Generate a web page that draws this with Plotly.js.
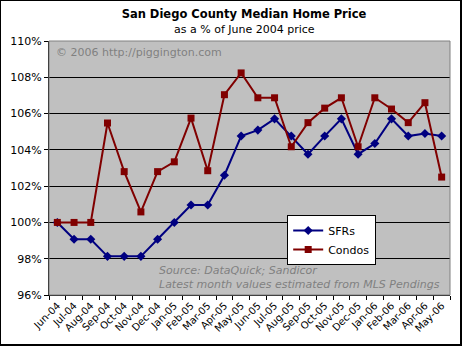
<!DOCTYPE html>
<html>
<head>
<meta charset="utf-8">
<script src="https://cdn.plot.ly/plotly-3.0.1.min.js"></script>
<style>
  html, body { margin: 0; padding: 0; background: #fff; }
  #frame { width: 462px; height: 346px; box-sizing: border-box; border: 1px solid #000; border-right-width: 2px; border-bottom-width: 2px; overflow: hidden; }
  #chart { width: 459px; height: 343px; }
</style>
</head>
<body>
<div id="frame"><div id="chart"></div></div>
<script>
const months = ["Jun-04","Jul-04","Aug-04","Sep-04","Oct-04","Nov-04","Dec-04","Jan-05","Feb-05","Mar-05","Apr-05","May-05","Jun-05","Jul-05","Aug-05","Sep-05","Oct-05","Nov-05","Dec-05","Jan-06","Feb-06","Mar-06","Apr-06","May-06"];
const sfrs = [100.0, 99.07, 99.07, 98.13, 98.13, 98.13, 99.07, 100.0, 100.96, 100.96, 102.6, 104.76, 105.09, 105.71, 104.76, 103.76, 104.76, 105.71, 103.76, 104.35, 105.71, 104.76, 104.9, 104.76];
const condos = [100.0, 100.0, 100.0, 105.48, 102.8, 100.58, 102.8, 103.34, 105.75, 102.85, 107.04, 108.24, 106.87, 106.87, 104.17, 105.5, 106.3, 106.87, 104.17, 106.87, 106.25, 105.5, 106.6, 102.5];
const yTicks = [96, 98, 100, 102, 104, 106, 108, 110];

const font = "DejaVu Sans, Verdana, sans-serif";

const traces = [
  { x: months, y: sfrs, name: "SFRs", type: "scatter", mode: "lines+markers",
    line: { color: "#000080", width: 2 },
    marker: { symbol: "diamond", size: 7, color: "#000080" } },
  { x: months, y: condos, name: "Condos", type: "scatter", mode: "lines+markers",
    line: { color: "#800000", width: 2 },
    marker: { symbol: "square", size: 7, color: "#800000" } }
];

const layout = {
  width: 459, height: 343,
  margin: { l: 48, r: 10, t: 40, b: 49 },
  paper_bgcolor: "#ffffff",
  plot_bgcolor: "#c0c0c0",
  font: { family: font, size: 11, color: "#000" },
  title: { text: "<b>San Diego County Median Home Price</b>", font: { family: font, size: 11.5, color: "#000" },
           x: (244 - 49) / 401, xref: "paper", xanchor: "center", y: 1 - 13/343, yanchor: "middle", yref: "container" },
  showlegend: true,
  legend: { x: 0.594, y: 0.315, xanchor: "left", yanchor: "top", bgcolor: "#ffffff",
            bordercolor: "#000", borderwidth: 1, font: { family: font, size: 11, color: "#000" },
            tracegroupgap: 0, itemwidth: 30 },
  xaxis: { type: "category", range: [-0.5, 23.5], tickson: "boundaries", ticks: "outside", ticklen: 4,
           tickcolor: "#000", tickangle: -45, showgrid: false, zeroline: false,
           showline: true, linecolor: "#000", linewidth: 1, mirror: false,
           tickfont: { family: font, size: 10, color: "#000" } },
  yaxis: { range: [96, 110], tickvals: yTicks, ticktext: yTicks.map(v => v + "%"),
           ticks: "outside", ticklen: 4, tickcolor: "#000", showgrid: true, gridcolor: "#000", gridwidth: 1,
           zeroline: false, showline: true, linecolor: "#000", linewidth: 1,
           tickfont: { family: font, size: 11, color: "#000" } },
  shapes: [
    { type: "rect", xref: "paper", yref: "paper", x0: 0, x1: 1, y0: 0, y1: 1,
      line: { color: "#808080", width: 1 }, fillcolor: "rgba(0,0,0,0)", layer: "above" }
  ],
  annotations: [
    { text: "as a % of June 2004 price", xref: "paper", yref: "paper", x: (244.5 - 49) / 401, y: 1 + (40 - 28) / 254,
      xanchor: "center", yanchor: "middle", showarrow: false, font: { family: font, size: 11, color: "#000" } },
    { text: "© 2006 http://piggington.com", xref: "paper", yref: "paper", x: 0.012, y: 1 - 11 / 254,
      xanchor: "left", yanchor: "middle", showarrow: false, font: { family: font, size: 11, color: "#808080" } },
    { text: "<i>Source: DataQuick; Sandicor</i>", xref: "paper", yref: "paper", x: (157 - 49) / 401, y: (295 - 270) / 254,
      xanchor: "left", yanchor: "middle", showarrow: false, font: { family: font, size: 11, color: "#808080" } },
    { text: "<i>Latest month values estimated from MLS Pendings</i>", xref: "paper", yref: "paper", x: (157 - 49) / 401, y: (295 - 284) / 254,
      xanchor: "left", yanchor: "middle", showarrow: false, font: { family: font, size: 11, color: "#808080" } }
  ]
};

Plotly.newPlot("chart", traces, layout, { displayModeBar: false, staticPlot: true });
</script>
</body>
</html>
